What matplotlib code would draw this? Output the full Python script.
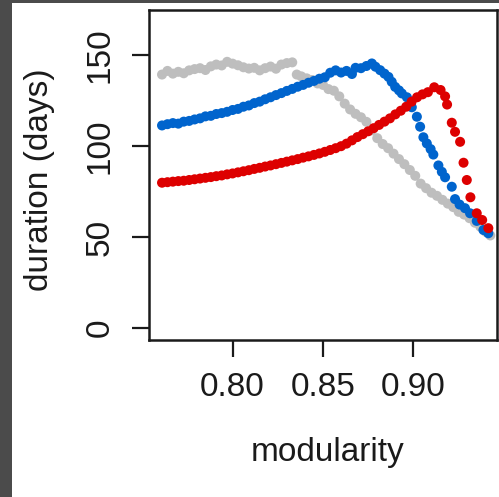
import matplotlib
matplotlib.use('Agg')
import matplotlib.pyplot as plt
from matplotlib.patches import Rectangle

plt.rcParams['font.family'] = ['Liberation Sans', 'DejaVu Sans']

# duration vs modularity, three parameter sweeps
gray_x = [0.761, 0.764, 0.767, 0.770, 0.773, 0.776, 0.779, 0.782, 0.785, 0.788,
          0.791, 0.794, 0.797, 0.800, 0.803, 0.806, 0.809, 0.812, 0.815, 0.818,
          0.821, 0.824, 0.827, 0.830, 0.833, 0.8355, 0.838, 0.841, 0.844, 0.847,
          0.850, 0.853, 0.856, 0.859, 0.862, 0.865, 0.868, 0.871, 0.874, 0.877,
          0.880, 0.883, 0.886, 0.889, 0.892, 0.895, 0.898, 0.901, 0.904, 0.907,
          0.910, 0.913, 0.916, 0.919, 0.922, 0.925, 0.928, 0.931, 0.934, 0.937,
          0.940, 0.9425]
gray_y = [139.5, 141.5, 140.0, 141.0, 140.2, 141.8, 142.5, 143.0, 142.0, 144.0,
          145.0, 144.5, 146.5, 145.5, 144.6, 143.5, 142.8, 143.2, 141.8, 143.0,
          143.9, 142.7, 145.0, 145.8, 146.2, 139.5, 138.5, 137.4, 136.5, 134.6,
          133.8, 131.5, 130.6, 127.5, 123.5, 120.3, 117.9, 116.0, 113.5, 108.8,
          104.5, 101.3, 99.0, 96.0, 93.0, 90.2, 87.0, 83.8, 79.5, 77.0,
          74.5, 72.8, 70.6, 68.5, 66.6, 64.0, 62.5, 60.5, 58.0, 55.8,
          53.0, 51.0]

blue_x = [0.761, 0.764, 0.767, 0.770, 0.773, 0.776, 0.779, 0.782, 0.785, 0.788,
          0.791, 0.794, 0.797, 0.800, 0.803, 0.806, 0.809, 0.812, 0.815, 0.818,
          0.821, 0.824, 0.827, 0.830, 0.833, 0.836, 0.839, 0.842, 0.845, 0.848,
          0.851, 0.854, 0.857, 0.860, 0.863, 0.866, 0.868, 0.871, 0.874, 0.877,
          0.879, 0.8816, 0.884, 0.8862, 0.888, 0.8899, 0.892, 0.8936, 0.8964, 0.8991,
          0.9019, 0.9037, 0.9055, 0.9074, 0.9095, 0.911, 0.9138, 0.9157, 0.9175, 0.9212,
          0.923, 0.9255, 0.9285, 0.9313, 0.935, 0.9387, 0.9414]
blue_y = [111.5, 112.2, 112.8, 112.5, 113.6, 114.0, 114.8, 115.4, 116.5, 116.8,
          117.8, 118.3, 119.0, 120.0, 120.6, 121.8, 122.5, 123.8, 124.6, 125.9,
          127.0, 128.2, 129.3, 130.5, 131.6, 132.8, 133.8, 135.0, 136.0, 137.2,
          138.0, 140.5, 141.8, 140.6, 141.5, 139.8, 143.2, 143.0, 144.2, 145.6,
          143.8, 141.9, 140.0, 138.2, 135.5, 132.7, 130.8, 129.1, 127.0, 121.5,
          116.3, 110.8, 105.0, 101.6, 98.5, 95.5, 89.5, 86.0, 83.0, 77.8,
          71.0, 68.0, 66.0, 63.2, 59.0, 54.0, 52.2]

red_x = [0.761, 0.764, 0.767, 0.770, 0.773, 0.776, 0.779, 0.782, 0.785, 0.788,
         0.791, 0.794, 0.797, 0.800, 0.803, 0.806, 0.809, 0.812, 0.815, 0.818,
         0.821, 0.824, 0.827, 0.830, 0.833, 0.836, 0.839, 0.842, 0.845, 0.848,
         0.851, 0.854, 0.857, 0.860, 0.863, 0.866, 0.869, 0.872, 0.875, 0.878,
         0.881, 0.884, 0.887, 0.890, 0.893, 0.896, 0.899, 0.902, 0.905, 0.908,
         0.9115, 0.915, 0.9175, 0.9186, 0.9212, 0.923, 0.9258, 0.9277, 0.9295, 0.9315,
         0.935, 0.938, 0.9414]
red_y = [80.0, 80.3, 80.6, 80.9, 81.1, 81.5, 81.9, 82.3, 82.7, 83.1,
         83.6, 84.0, 84.6, 85.1, 85.7, 86.3, 86.9, 87.6, 88.2, 88.9,
         89.5, 90.2, 90.9, 91.6, 92.3, 93.0, 93.8, 94.5, 95.3, 96.1,
         97.0, 98.0, 99.0, 100.1, 101.5, 103.3, 105.1, 106.7, 108.3, 110.0,
         111.8, 113.6, 115.4, 117.6, 119.6, 121.8, 124.6, 127.0, 128.6, 129.8,
         132.5, 131.0, 127.5, 123.0, 113.0, 108.0, 102.5, 91.0, 81.5, 72.0,
         63.2, 59.5, 55.0]

W, H = 499, 497
fig = plt.figure(figsize=(W / 100, H / 100), dpi=100, facecolor='white')
# dark border strips on the left and top
fig.patches.append(Rectangle((0, 0), 12 / W, 1, transform=fig.transFigure,
                             facecolor='#4b4b4b', edgecolor='none', zorder=-10))
fig.patches.append(Rectangle((0, 1 - 3 / H), 1, 3 / H, transform=fig.transFigure,
                             facecolor='#4b4b4b', edgecolor='none', zorder=-10))

ax = fig.add_axes([149 / W, 1 - 340 / H, (497 - 149) / W, (340 - 10) / H])
ax.set_facecolor('white')

ms = 52
ax.scatter(gray_x, gray_y, s=ms, color='#bebebe', edgecolors='none', zorder=2)
ax.scatter(blue_x, blue_y, s=ms, color='#0064cd', edgecolors='none', zorder=3)
ax.scatter(red_x, red_y, s=ms, color='#dd0000', edgecolors='none', zorder=4)

ax.set_xlim(0.7538, 0.9462)
ax.set_ylim(-6.5, 175)

ax.set_xticks([0.80, 0.85, 0.90])
ax.set_xticklabels(['0.80', '0.85', '0.90'])
ax.set_yticks([0, 50, 100, 150])
ax.set_yticklabels(['0', '50', '100', '150'], rotation=90, va='center')

for sp in ax.spines.values():
    sp.set_linewidth(1.8)
    sp.set_color('#1a1a1a')
ax.tick_params(axis='both', length=12, width=1.6, color='#1a1a1a',
               labelsize=24, labelcolor='#1a1a1a')
ax.tick_params(axis='x', pad=11)
ax.tick_params(axis='y', pad=12)

fig.text(328 / W, 1 - 453 / H, 'modularity', fontsize=24, color='#1a1a1a',
         ha='center', va='center')
fig.text(40 / W, 1 - 180 / H, 'duration (days)', fontsize=24, color='#1a1a1a',
         ha='center', va='center', rotation=90)

fig.savefig('out.png', dpi=100, facecolor=fig.get_facecolor())
